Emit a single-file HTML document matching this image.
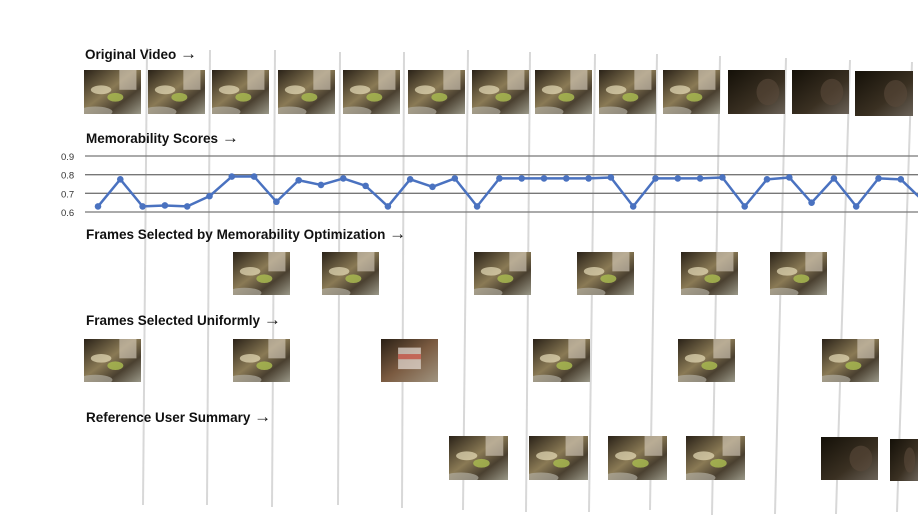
<!DOCTYPE html>
<html><head><meta charset="utf-8"><style>
html,body{margin:0;padding:0;background:#fff;}
svg{display:block;font-family:"Liberation Sans",sans-serif;}
</style></head><body>
<svg id="fig" width="918" height="517" viewBox="0 0 918 517">
<defs>
<linearGradient id="thumbA" x1="0" y1="0" x2="1" y2="1">
<stop offset="0" stop-color="#2a2218"/><stop offset="0.45" stop-color="#8a7a55"/><stop offset="0.7" stop-color="#4a4030"/><stop offset="1" stop-color="#9a9888"/>
</linearGradient>
<linearGradient id="thumbB" x1="0" y1="0" x2="1" y2="1">
<stop offset="0" stop-color="#141008"/><stop offset="0.6" stop-color="#3a3022"/><stop offset="1" stop-color="#6a6258"/>
</linearGradient>
<linearGradient id="thumbC" x1="0" y1="0" x2="1" y2="1">
<stop offset="0" stop-color="#2a2015"/><stop offset="0.5" stop-color="#7a5a40"/><stop offset="1" stop-color="#a09480"/>
</linearGradient>
</defs>
<g id="vlines"></g>
<g id="thumbs"></g>
<g id="chart"></g>
<g font-weight="bold" font-size="13.5" fill="#111">
<text x="85" y="59">Original Video <tspan font-size="17" font-weight="normal">→</tspan></text>
<text x="86" y="143">Memorability Scores <tspan font-size="17" font-weight="normal">→</tspan></text>
<text x="86" y="239">Frames Selected by Memorability Optimization <tspan font-size="17" font-weight="normal">→</tspan></text>
<text x="86" y="325">Frames Selected Uniformly <tspan font-size="17" font-weight="normal">→</tspan></text>
<text x="86" y="422">Reference User Summary <tspan font-size="17" font-weight="normal">→</tspan></text>
</g>
</svg>
<script>
// memorability scores per frame
const scores=[0.63,0.775,0.63,0.635,0.63,0.685,0.79,0.79,0.655,0.77,0.745,0.78,0.74,0.63,0.775,0.735,0.78,0.63,0.78,0.78,0.78,0.78,0.78,0.785,0.63,0.78,0.78,0.78,0.785,0.63,0.775,0.785,0.65,0.78,0.63,0.78,0.775,0.66];
const yTicks=[0.6,0.7,0.8,0.9];
const yTickLabels=["0.6","0.7","0.8","0.9"];
const NS="http://www.w3.org/2000/svg";
function mk(tag,attrs,parent){const e=document.createElementNS(NS,tag);for(const k in attrs)e.setAttribute(k,attrs[k]);parent.appendChild(e);return e;}
function xS(i){return 98+i*22.3;}
function yS(v){return 212-(v-0.6)/0.3*56;}
const vg=document.getElementById('vlines');
[[147,143,48,505],[210,207,50,505],[275,272,50,507],[340,338,52,505],[404,402,52,508],[468,463,50,510],[530,526,52,512],[595,589,54,512],[657,650,54,510],[720,712,56,515],[786,775,58,514],[850,836,60,514],[912,897,62,512]].forEach(l=>{
const e=mk('line',{x1:l[0],y1:l[2],x2:l[1],y2:l[3],stroke:'#d8d8d8','stroke-width':2},vg);


});
const tg=document.getElementById('thumbs');
let cid=0;
function thumb(x,y,w,h,kind){
const g=mk('g',{},tg);


const id='c'+(cid++);
const cp=mk('clipPath',{id:id},g);
mk('rect',{x:x,y:y,width:w,height:h},cp);
const inner=mk('g',{'clip-path':'url(#'+id+')'},g);
mk('rect',{x:x,y:y,width:w,height:h,fill:kind==1?'url(#thumbB)':kind==2?'url(#thumbC)':'url(#thumbA)'},inner);
if(kind==0){
mk('ellipse',{cx:x+w*0.55,cy:y+h*0.62,rx:w*0.14,ry:h*0.1,fill:'#a8b850',opacity:0.85},inner);
mk('ellipse',{cx:x+w*0.3,cy:y+h*0.45,rx:w*0.18,ry:h*0.1,fill:'#e6dcb8',opacity:0.7},inner);
mk('rect',{x:x+w*0.62,y:y,width:w*0.3,height:h*0.45,fill:'#d8cfc0',opacity:0.6},inner);
mk('ellipse',{cx:x+w*0.2,cy:y+h*0.95,rx:w*0.3,ry:h*0.12,fill:'#b0aca0',opacity:0.7},inner);
}else if(kind==2){
mk('rect',{x:x+w*0.3,y:y+h*0.2,width:w*0.4,height:h*0.5,fill:'#e8e0d8',opacity:0.7},inner);
mk('rect',{x:x+w*0.3,y:y+h*0.35,width:w*0.4,height:h*0.12,fill:'#c03020',opacity:0.6},inner);
}else{
mk('ellipse',{cx:x+w*0.7,cy:y+h*0.5,rx:w*0.2,ry:h*0.3,fill:'#5a4a3a',opacity:0.6},inner);
}
}
[84,148,212,278,343,408,472,535,599,663,728,792].forEach((x,i)=>thumb(x,70,57,44,i>=10?1:0));
thumb(855,71,58,45,1);
[233,322,474,577,681,770].forEach(x=>thumb(x,252,57,43,0));
[84,233,381,533,678,822].forEach((x,i)=>thumb(x,339,57,43,i==2?2:0));
[449,529,608,686].forEach(x=>thumb(x,436,59,44,0));
thumb(821,437,57,43,1);thumb(890,439,28,42,1);
const cg=document.getElementById('chart');
yTicks.forEach((t,i)=>{
const l=mk('line',{x1:85,x2:918,y1:yS(t),y2:yS(t),stroke:'#777','stroke-width':1.3},cg);


const tx=mk('text',{x:61,y:yS(t)+4,'font-size':9.5,fill:'#333'},cg);
tx.textContent=yTickLabels[i];


});
const pts=scores.map((v,i)=>xS(i)+','+yS(v)).join(' ');
const pl=mk('polyline',{points:pts,fill:'none',stroke:'#4a72c0','stroke-width':2.5,'stroke-linejoin':'round'},cg);


scores.forEach((v,i)=>{
const c=mk('circle',{cx:xS(i),cy:yS(v),r:3.3,fill:'#4a72c0'},cg);


});
</script>
</body></html>
